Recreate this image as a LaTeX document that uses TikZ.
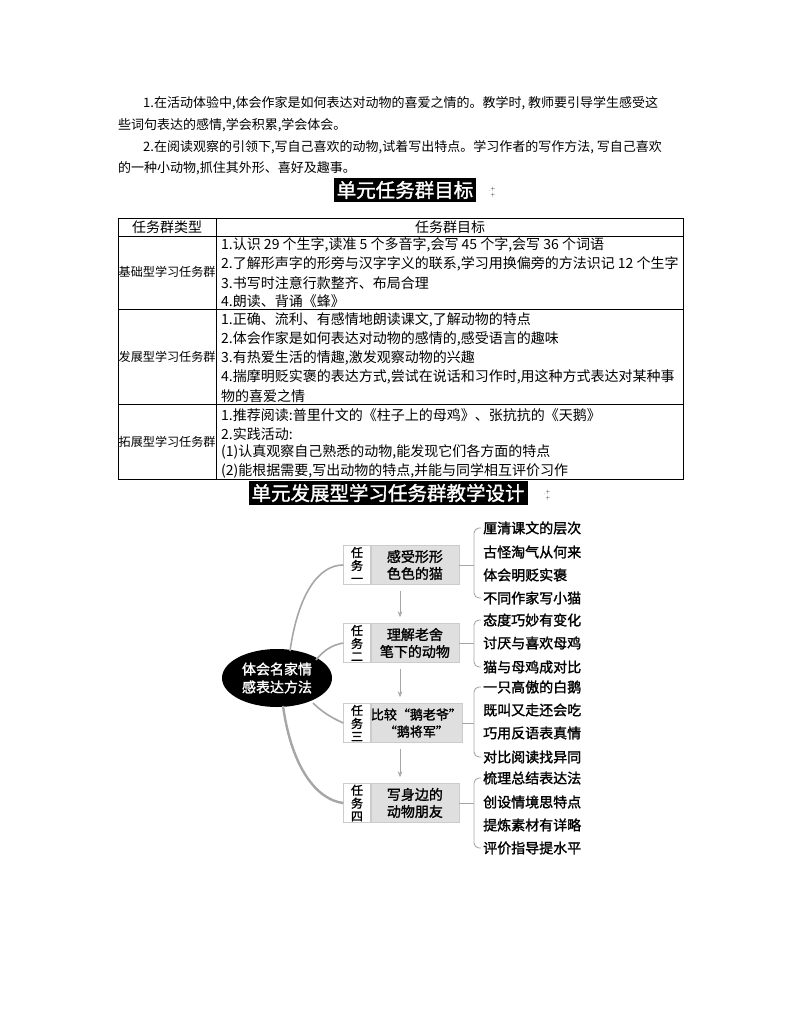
\documentclass[tikz,border=0pt]{standalone}
\usepackage{fontspec}
\setmainfont{Noto Sans CJK SC}
\newfontfamily\cjkbold[FakeBold=1.5]{Noto Sans CJK SC}
\usetikzlibrary{positioning,arrows.meta,shapes.geometric}
\tikzset{
  txt/.style={anchor=west, inner sep=0pt, font=\fontsize{13}{15}\selectfont},
  cell/.style={anchor=west, inner sep=0pt, font=\fontsize{14}{15}\selectfont},
  rowhead/.style={anchor=west, inner sep=0pt, font=\fontsize{12.1}{14}\selectfont},
  banner/.style={fill=black, text=white, font=\cjkbold\fontsize{19.5}{21}\selectfont, inner sep=3pt, minimum height=22pt},
  tag/.style={draw=gray!40, fill=white, font=\cjkbold\fontsize{12}{13}\selectfont, align=center, minimum width=27pt, minimum height=39pt, inner sep=0pt},
  taskbox/.style={draw=gray!40, fill=gray!25, font=\cjkbold\fontsize{14}{17}\selectfont, align=center, minimum width=88pt, minimum height=39pt, inner sep=0pt},
  leaf/.style={anchor=west, inner sep=0pt, font=\cjkbold\fontsize{14}{15}\selectfont},
  branch/.style={draw=gray!70, line width=1.6pt},
  brace/.style={draw=gray!70, line width=0.9pt, rounded corners=5pt},
  step arrow/.style={draw=gray!70, line width=1pt, -{Stealth[length=6pt]}, shorten <=6pt, shorten >=6pt}
}
\begin{document}
\begin{tikzpicture}[x=1pt, y=-1pt]
  \useasboundingbox (0,0) rectangle (800,1010);

  % paragraph
  \node[txt] (p1) at (143,103) {1.在活动体验中,体会作家是如何表达对动物的喜爱之情的。教学时, 教师要引导学生感受这};
  \node[txt] (p2) at (118,125) {些词句表达的感情,学会积累,学会体会。};
  \node[txt] (p3) at (143,147) {2.在阅读观察的引领下,写自己喜欢的动物,试着写出特点。学习作者的写作方法, 写自己喜欢};
  \node[txt] (p4) at (118,168) {的一种小动物,抓住其外形、喜好及趣事。};

  % banner one
  \node[banner] (ban1) at (405,190) {单元任务群目标};
  \node[font=\tiny] (spark1) at (492,192) {$\cdot^{+}_{+}$};

  % table
  \draw[line width=0.8pt] (118,218) rectangle (683,479);
  \draw[line width=0.6pt] (216,218) -- (216,479);
  \foreach \yy in {236,309,404} \draw[line width=0.6pt] (118,\yy) -- (683,\yy);
  \node[cell, anchor=center] (h1) at (167,227) {任务群类型};
  \node[cell, anchor=center] (h2) at (450,227) {任务群目标};
  \node[rowhead] (r1) at (118.5,272) {基础型学习任务群};
  \node[rowhead] (r2) at (118.5,357) {发展型学习任务群};
  \node[rowhead] (r3) at (118.5,442) {拓展型学习任务群};
  \node[cell] (a1) at (221,245) {1.认识 29 个生字,读准 5 个多音字,会写 45 个字,会写 36 个词语};
  \node[cell] (a2) at (221,264) {2.了解形声字的形旁与汉字字义的联系,学习用换偏旁的方法识记 12 个生字};
  \node[cell] (a3) at (221,283) {3.书写时注意行款整齐、布局合理};
  \node[cell] (a4) at (221,301) {4.朗读、背诵《蜂》};
  \node[cell] (b1) at (221,320) {1.正确、流利、有感情地朗读课文,了解动物的特点};
  \node[cell] (b2) at (221,339) {2.体会作家是如何表达对动物的感情的,感受语言的趣味};
  \node[cell] (b3) at (221,358) {3.有热爱生活的情趣,激发观察动物的兴趣};
  \node[cell] (b4) at (221,377) {4.揣摩明贬实褒的表达方式,尝试在说话和习作时,用这种方式表达对某种事};
  \node[cell] (b5) at (221,396) {物的喜爱之情};
  \node[cell] (c1) at (221,415) {1.推荐阅读:普里什文的《柱子上的母鸡》、张抗抗的《天鹅》};
  \node[cell] (c2) at (221,434) {2.实践活动:};
  \node[cell] (c3) at (221,452) {(1)认真观察自己熟悉的动物,能发现它们各方面的特点};
  \node[cell] (c4) at (221,471) {(2)能根据需要,写出动物的特点,并能与同学相互评价习作};

  % banner two
  \node[banner] (ban2) at (388,493) {单元发展型学习任务群教学设计};
  \node[font=\tiny] (spark2) at (547,495) {$\cdot^{+}_{+}$};

  % mind map
  \node[fill=black, ellipse, text=white, align=center, minimum width=110pt, minimum height=58pt,
        font=\cjkbold\fontsize{14}{18}\selectfont] (core) at (277,678) {体会名家情\\感表达方法};

  \node[tag] (t1) at (357,565) {任\\务\\一};
  \node[taskbox, right=0pt of t1] (k1) {感受形形\\色色的猫};
  \node[tag] (t2) at (357,643) {任\\务\\二};
  \node[taskbox, right=0pt of t2] (k2) {理解老舍\\笔下的动物};
  \node[tag] (t3) at (357,723) {任\\务\\三};
  \node[taskbox, right=0pt of t3, font=\cjkbold\fontsize{13}{17}\selectfont] (k3) {比较“鹅老爷”\\“鹅将军”};
  \node[tag] (t4) at (357,803) {任\\务\\四};
  \node[taskbox, right=0pt of t4] (k4) {写身边的\\动物朋友};

  \draw[step arrow] (k1.south -| 400,0) -- (k2.north -| 400,0);
  \draw[step arrow] (k2.south -| 400,0) -- (k3.north -| 400,0);
  \draw[step arrow] (k3.south -| 400,0) -- (k4.north -| 400,0);

  \coordinate (o1) at (290,651);
  \coordinate (o2) at (316,660);
  \coordinate (o3) at (313,703);
  \coordinate (o4) at (283,706);
  \draw[branch] (o1) .. controls (298,595) and (318,565) .. (t1.west);
  \draw[branch] (o2) .. controls (324,650) and (332,645) .. (t2.west);
  \draw[branch] (o3) .. controls (322,712) and (332,718) .. (t3.west);
  \draw[branch, line width=2.4pt] (o4) .. controls (292,770) and (318,800) .. (t4.west);

  % leaves
  \foreach \name/\yy/\txt in {l1/528/厘清课文的层次, l2/552/古怪淘气从何来, l3/575/体会明贬实褒, l4/598/不同作家写小猫,
      l5/620/态度巧妙有变化, l6/643/讨厌与喜欢母鸡, l7/667/猫与母鸡成对比,
      l8/687/一只高傲的白鹅, l9/710/既叫又走还会吃, l10/733/巧用反语表真情, l11/757/对比阅读找异同,
      l12/778/梳理总结表达法, l13/802/创设情境思特点, l14/825/提炼素材有详略, l15/848/评价指导提水平}
    \node[leaf] (\name) at (483,\yy) {\txt};

  \draw[brace] (481,528) -- (474,528) -- (474,598) -- (481,598);
  \draw[brace] (481,620) -- (474,620) -- (474,667) -- (481,667);
  \draw[brace] (481,687) -- (474,687) -- (474,757) -- (481,757);
  \draw[brace] (481,778) -- (474,778) -- (474,848) -- (481,848);
  \draw[branch, line width=0.9pt] (k1.east) -- (474,565);
  \draw[branch, line width=0.9pt] (k2.east) -- (474,643);
  \draw[branch, line width=0.9pt] (k3.east) -- (474,723);
  \draw[branch, line width=0.9pt] (k4.east) -- (474,803);
\end{tikzpicture}
\end{document}
